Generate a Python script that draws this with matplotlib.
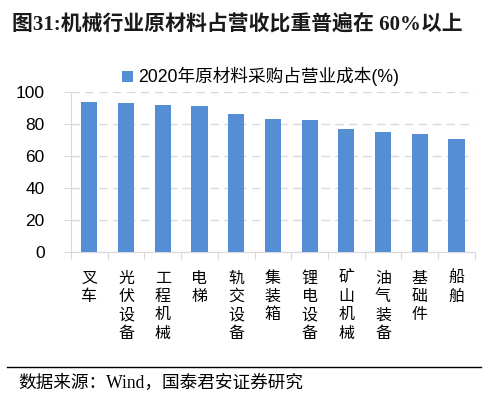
import matplotlib.pyplot as plt
from matplotlib.lines import Line2D

plt.rcParams['font.family'] = ['Liberation Sans', 'Noto Sans CJK SC']

categories = ["叉车", "光伏设备", "工程机械", "电梯", "轨交设备", "集装箱",
              "锂电设备", "矿山机械", "油气装备", "基础件", "船舶"]
values = [93.6, 93.3, 91.7, 91.0, 86.1, 82.8, 82.6, 77.1, 74.9, 73.6, 70.4]
yticks = [0, 20, 40, 60, 80, 100]
legend_label = "2020年原材料采购占营业成本(%)"
title = "图31:机械行业原材料占营收比重普遍在 60%以上"
source = "数据来源：Wind，国泰君安证券研究"

fig = plt.figure(figsize=(4.88, 3.98), dpi=100)
ax = fig.add_axes([0.1455, 0.3668, 0.8275, 0.4022])

x = range(len(categories))
ax.bar(x, values, width=0.44, color="#558ED5", zorder=3, label=legend_label)

ax.set_ylim(0, 100)
ax.set_xlim(-0.5, len(categories) - 0.5)
ax.set_yticks(yticks)
ax.tick_params(axis="y", length=5, color="#D9D9D9", labelsize=12.5, pad=14)
ax.yaxis.grid(True, color="#D9D9D9", linestyle=(0, (6, 4)), linewidth=1, zorder=0)

# category labels written vertically, ticks between categories
ax.set_xticks([i + 0.5 for i in range(-1, len(categories))], minor=False)
ax.set_xticklabels([])
ax.tick_params(axis="x", length=5, color="#D9D9D9", direction="out")
for i, name in enumerate(categories):
    ax.text(i, -11, "\n".join(name), ha="center", va="top", fontsize=11.5,
            linespacing=1.1, family=["Noto Sans CJK SC"])

for side in ["top", "right"]:
    ax.spines[side].set_visible(False)
ax.spines["left"].set_color("#D9D9D9")
ax.spines["bottom"].set_color("#D9D9D9")

ax.legend(loc="lower center", bbox_to_anchor=(0.47, 0.99), frameon=False,
          fontsize=12.7, handlelength=0.6, handleheight=0.6, handletextpad=0.3,
          borderaxespad=0.0)

fig.text(0.025, 0.937, title, fontsize=15, fontweight="bold", va="center",
         color="#1a1a1a", family=["Liberation Serif", "Noto Sans CJK SC"])
fig.add_artist(Line2D([0.015, 0.985], [0.078, 0.078], color="black", linewidth=1))
fig.text(0.037, 0.037, source, fontsize=12.7, va="center",
         family=["Liberation Serif", "Noto Sans CJK SC"])

fig.savefig("out.png", dpi=100)
